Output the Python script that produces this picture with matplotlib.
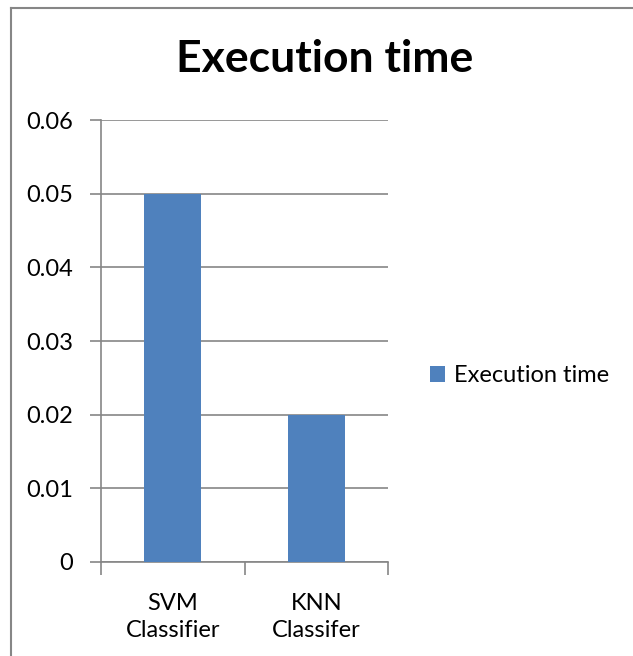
import matplotlib.pyplot as plt
import numpy as np

# data
categorias = ["SVM\nClassifier", "KNN\nClassifer"]
tempos = [0.05, 0.02]
serie = "Execution time"
yticks = [0, 0.01, 0.02, 0.03, 0.04, 0.05, 0.06]
ytick_labels = ["0", "0.01", "0.02", "0.03", "0.04", "0.05", "0.06"]

plt.rcParams['font.family'] = ['Lato', 'DejaVu Sans']

fig = plt.figure(figsize=(6.33, 6.56), dpi=100)
ax = fig.add_axes([0.1596, 0.1433, 0.4534, 0.6737])

x = np.arange(len(categorias))
ax.bar(x, tempos, width=0.4, color="#4f81bd", label=serie, zorder=3)

cinza = "#868686"
ax.set_xlim(-0.5, 1.5)
ax.set_ylim(0, 0.06)
ax.set_yticks(yticks)
ax.set_yticklabels(ytick_labels, fontsize=17)
ax.yaxis.grid(True, color=cinza, linewidth=1.2, zorder=0)

ax.set_xticks([-0.5, 0.5, 1.5], minor=False)
ax.set_xticklabels([])
ax.set_xticks(x, minor=True)
ax.set_xticklabels(categorias, minor=True, fontsize=17, linespacing=1.35)
ax.tick_params(axis='x', which='minor', length=0, pad=22)
ax.tick_params(axis='x', which='major', length=9, width=1.2, color=cinza)
ax.tick_params(axis='y', length=8, width=1.2, color=cinza, pad=12)

for lado in ["top", "right"]:
    ax.spines[lado].set_visible(False)
ax.spines["left"].set_color(cinza)
ax.spines["bottom"].set_color(cinza)
ax.spines["left"].set_linewidth(1.2)
ax.spines["bottom"].set_linewidth(1.2)

fig.legend(loc="center left", bbox_to_anchor=(430/633, 0.427), frameon=False,
           fontsize=17, handlelength=0.65, handleheight=0.65, handletextpad=0.35,
           borderpad=0, borderaxespad=0)

fig.text(0.513, 0.91, "Execution time", ha="center", va="center",
         fontsize=32, fontweight="bold")

# moldura (apenas topo e esquerda visiveis)
fig.add_artist(plt.Line2D([11/633, 1], [1 - 8/656, 1 - 8/656], color=cinza, lw=1.5))
fig.add_artist(plt.Line2D([11/633, 11/633], [0, 1 - 8/656], color=cinza, lw=1.5))

fig.savefig("out.png", dpi=100)
